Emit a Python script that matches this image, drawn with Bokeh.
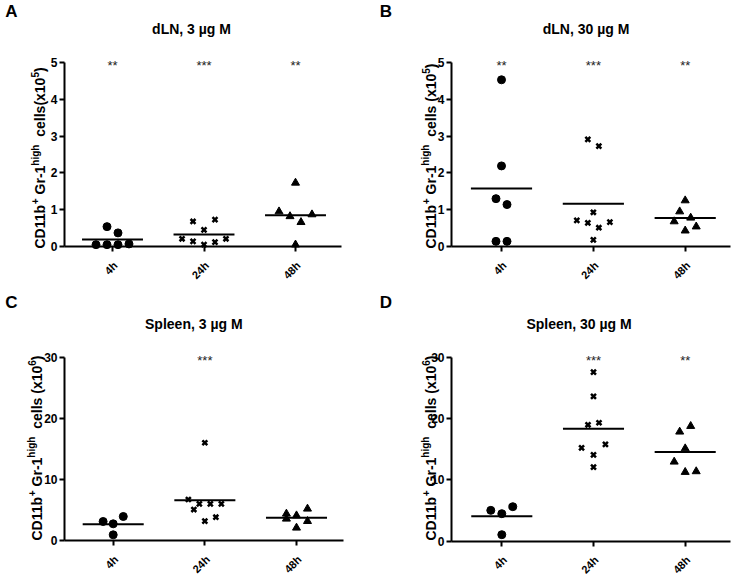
import math
import numpy as np
from bokeh.plotting import figure
from bokeh.models import Range1d, FixedTicker, Label
from bokeh.layouts import column, row
from bokeh.embed import file_html
from bokeh.resources import INLINE
from bokeh.core.properties import value

FONT = "Liberation Sans"

# ---------------- data ----------------
categories = ["4h", "24h", "48h"]
markers = ["circle", "x", "triangle"]

# Panel A: dLN, 3 ug M  (x10^5)
a_title = "dLN, 3 µg M"
a_4h = [0.54, 0.37, 0.05, 0.05, 0.05, 0.07]
a_4h_dx = [-0.06, 0.06, -0.18, -0.06, 0.06, 0.18]
a_24h = [0.68, 0.73, 0.45, 0.21, 0.14, 0.05, 0.12, 0.21]
a_24h_dx = [-0.12, 0.12, 0.0, -0.24, -0.12, 0.0, 0.12, 0.24]
a_48h = [1.73, 0.95, 0.82, 0.66, 0.87, 0.05]
a_48h_dx = [0.0, -0.18, -0.06, 0.06, 0.18, 0.0]
a_stars = ["**", "***", "**"]

# Panel B: dLN, 30 ug M  (x10^5)
b_title = "dLN, 30 µg M"
b_4h = [4.53, 2.19, 1.30, 1.14, 0.14, 0.14]
b_4h_dx = [0.0, 0.0, -0.06, 0.06, -0.06, 0.06]
b_24h = [2.91, 2.73, 0.93, 0.71, 0.64, 0.51, 0.66, 0.18]
b_24h_dx = [-0.06, 0.06, 0.0, -0.18, -0.06, 0.06, 0.18, 0.0]
b_48h = [1.25, 0.95, 0.68, 0.78, 0.43, 0.54]
b_48h_dx = [0.0, -0.06, -0.12, 0.06, 0.0, 0.12]
b_stars = ["**", "***", "**"]

# Panel C: Spleen, 3 ug M  (x10^6)
c_title = "Spleen, 3 µg M"
c_4h = [3.11, 2.73, 3.93, 0.93]
c_4h_dx = [-0.11, 0.0, 0.11, 0.0]
c_24h = [16.0, 6.71, 5.07, 6.0, 6.0, 6.0, 3.16, 3.81]
c_24h_dx = [0.0, -0.18, -0.12, -0.06, 0.06, 0.18, 0.0, 0.12]
c_48h = [4.37, 3.55, 4.09, 5.19, 3.16, 2.08]
c_48h_dx = [-0.11, -0.11, 0.0, 0.12, 0.12, 0.0]
c_stars = ["", "***", ""]

# Panel D: Spleen, 30 ug M  (x10^6)
d_title = "Spleen, 30  µg M"
d_4h = [5.0, 4.46, 5.6, 1.03]
d_4h_dx = [-0.12, 0.0, 0.12, 0.0]
d_24h = [27.55, 23.6, 18.97, 19.3, 15.2, 15.76, 14.07, 12.07]
d_24h_dx = [0.0, 0.0, -0.06, 0.06, -0.13, 0.13, 0.0, 0.0]
d_48h = [18.75, 17.83, 15.1, 12.93, 11.25, 11.36]
d_48h_dx = [0.06, -0.06, 0.0, -0.12, 0.0, 0.12]
d_stars = ["", "***", "**"]

yticks_ln = [0, 1, 2, 3, 4, 5]
yticks_sp = [0, 10, 20, 30]

ylab_a = [("CD11b", False), ("+", True), (" Gr-1", False), ("high", True), ("  cells(x10", False), ("5", True), (")", False)]
ylab_b = [("CD11b", False), ("+", True), (" Gr-1", False), ("high", True), ("  cells (x10", False), ("5", True), (")", False)]
ylab_c = [("CD11b", False), ("+", True), (" Gr-1", False), ("high", True), ("  cells (x10", False), ("6", True), (")", False)]
ylab_d = ylab_c

# ---------------- helpers ----------------
W_BOLD = {"C": 722, "D": 722, "1": 556, "b": 611, "+": 584, " ": 278, "G": 778, "r": 389,
          "-": 333, "h": 611, "i": 278, "g": 611, "c": 556, "e": 556, "l": 278, "s": 556,
          "(": 333, "x": 556, "0": 556, "5": 556, "6": 556, ")": 333}


def text_width(s, size):
    return sum(W_BOLD.get(ch, 556) for ch in s) / 1000.0 * size


FIG_W, FIG_H = 368, 290


def make_panel(g, groups, stars, yticks, ytop, ylab, title, letter):
    sx = (g["xc3"] - g["xc1"]) / 2.0
    ky = (g["y0"] - g["ytop_px"]) / ytop

    def to_data(px, py):
        return 1 + (px - g["xc1"]) / sx, (g["y0"] - py) / ky

    x_start, y_end = to_data(g["fx"], g["fy"])
    x_end, y_start = to_data(g["fx"] + FIG_W, g["fy"] + FIG_H)
    x_left, _ = to_data(g["L"], 0)
    x_right, _ = to_data(g["R"], 0)

    p = figure(width=FIG_W, height=FIG_H,
               x_range=Range1d(x_start, x_end), y_range=Range1d(y_start, y_end),
               output_backend="svg", toolbar_location=None, min_border=0)
    p.xgrid.visible = False
    p.ygrid.visible = False
    p.outline_line_color = None
    p.background_fill_color = "white"

    xa = p.xaxis[0]
    xa.ticker = FixedTicker(ticks=[1, 2, 3], minor_ticks=[])
    xa.major_label_overrides = {1: "", 2: "", 3: ""}
    xa.fixed_location = 0
    xa.bounds = (x_left, x_right)
    xa.axis_line_width = 2
    xa.axis_line_color = "black"
    xa.major_tick_line_width = 2
    xa.major_tick_out = 5
    xa.major_tick_in = 0
    xa.minor_tick_line_color = None

    ya = p.yaxis[0]
    ya.ticker = FixedTicker(ticks=yticks, minor_ticks=[])
    ya.fixed_location = x_left
    ya.bounds = (0, ytop)
    ya.axis_line_width = 2
    ya.axis_line_color = "black"
    ya.major_tick_line_width = 2
    ya.major_tick_out = 5
    ya.major_tick_in = 0
    ya.minor_tick_line_color = None
    ya.major_label_text_font = FONT
    ya.major_label_text_font_size = "12px"
    ya.major_label_text_font_style = "bold"
    ya.major_label_text_color = "black"
    ya.major_label_standoff = 2

    # category labels, rotated 45 degrees, ending at the tick
    _, ylab_cat = to_data(0, g["y0"] + 17)
    dxl = 3.0 / sx
    for i, c in enumerate(categories):
        p.add_layout(Label(x=i + 1 + dxl, y=ylab_cat, text=c, angle=math.pi / 4,
                           text_align="right", text_baseline="middle", text_font=FONT,
                           text_font_size="11px", text_font_style="bold", text_color="black"))

    for i, (vals, dx) in enumerate(groups):
        xs = [(i + 1) + d for d in dx]
        mk = markers[i]
        if mk == "x":
            p.scatter(xs, vals, marker="x", size=7, line_width=2.5, line_color="black")
        elif mk == "triangle":
            p.scatter(xs, vals, marker="triangle", size=8, fill_color="black", line_color="black")
        else:
            p.scatter(xs, vals, marker="circle", size=8, fill_color="black", line_color="black")
        m = float(np.mean(vals))
        p.segment(x0=[i + 1 - 0.333], x1=[i + 1 + 0.333], y0=[m], y1=[m],
                  line_width=2, line_color="black")

    p.text(x=[1, 2, 3], y=[ytop] * 3, text=stars, text_align="center",
           text_baseline="middle", text_font=value(FONT), text_font_size="13px",
           text_color="#222222", y_offset=3)

    # rotated y-axis label built from pieces (with superscripts)
    cum = 0.0
    for txt, sup in ylab:
        size = 10 if sup else 14
        stripped = txt.lstrip()
        lead = text_width(txt[: len(txt) - len(stripped)], size)
        bx = g["ylab_x"] - (5 if sup else 0)
        x, y = to_data(bx, g["ylab_y0"] - cum - lead)
        p.add_layout(Label(x=x, y=y, text=stripped, angle=math.pi / 2, text_align="left",
                           text_baseline="alphabetic", text_font=FONT,
                           text_font_size=f"{size}px", text_font_style="bold",
                           text_color="black"))
        cum += text_width(txt, size)

    tx, ty = to_data(*g["title"])
    p.add_layout(Label(x=tx, y=ty, text=title, text_align="center", text_baseline="middle",
                       text_font=FONT, text_font_size="14px", text_font_style="bold",
                       text_color="black"))
    lx, ly = to_data(*g["letter"])
    p.add_layout(Label(x=lx, y=ly, text=letter, text_align="center", text_baseline="middle",
                       text_font=FONT, text_font_size="17px", text_font_style="bold",
                       text_color="black"))
    return p


geo_a = dict(fx=0, fy=0, L=64, R=341, xc1=112, xc3=295, y0=246, ytop_px=62,
             ylab_x=39.5, ylab_y0=248, title=(191, 28), letter=(11, 11))
geo_b = dict(fx=368, fy=0, L=451, R=730, xc1=501, xc3=684.7, y0=246, ytop_px=62,
             ylab_x=430, ylab_y0=248, title=(585.5, 28), letter=(385.5, 11))
geo_c = dict(fx=0, fy=290, L=64, R=343, xc1=112.7, xc3=296, y0=540, ytop_px=356.7,
             ylab_x=36, ylab_y0=540, title=(193.3, 323), letter=(11, 301.5))
geo_d = dict(fx=368, fy=290, L=451, R=730, xc1=501.3, xc3=684.7, y0=540.5, ytop_px=356.7,
             ylab_x=430, ylab_y0=540, title=(580.5, 323), letter=(385.5, 301.5))

pa = make_panel(geo_a, [(a_4h, a_4h_dx), (a_24h, a_24h_dx), (a_48h, a_48h_dx)], a_stars,
                yticks_ln, 5, ylab_a, a_title, "A")
pb = make_panel(geo_b, [(b_4h, b_4h_dx), (b_24h, b_24h_dx), (b_48h, b_48h_dx)], b_stars,
                yticks_ln, 5, ylab_b, b_title, "B")
pc = make_panel(geo_c, [(c_4h, c_4h_dx), (c_24h, c_24h_dx), (c_48h, c_48h_dx)], c_stars,
                yticks_sp, 30, ylab_c, c_title, "C")
pd = make_panel(geo_d, [(d_4h, d_4h_dx), (d_24h, d_24h_dx), (d_48h, d_48h_dx)], d_stars,
                yticks_sp, 30, ylab_d, d_title, "D")

layout = column(row(pa, pb), row(pc, pd))
open("out.html", "w").write(file_html(layout, INLINE))
